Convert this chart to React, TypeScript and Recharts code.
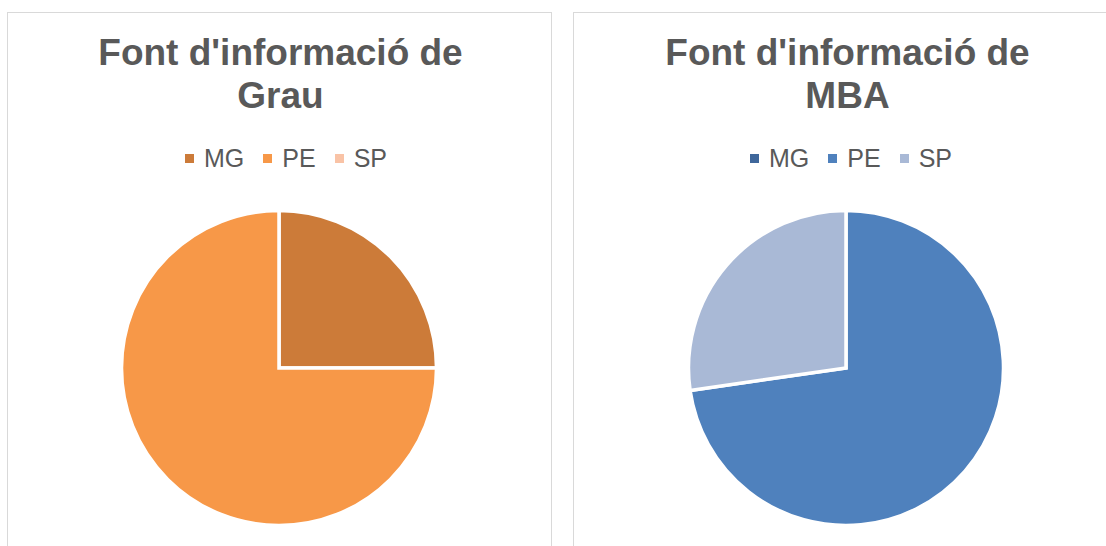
import React from "react"
import { PieChart, Pie, Cell, Legend } from "recharts"

// ============ Data ============
const categories = ["MG", "PE", "SP"]
const grauValues = [1, 3, 0]
const mbaValues = [0, 8, 3]

const grauColors = ["#CC7B39", "#F79848", "#F9C3A6"]
const mbaColors = ["#3F679B", "#4F81BD", "#A9B9D6"]

const FONT = "'Liberation Sans', Arial, sans-serif"

const LegendContent = ({ payload }: any) => {
  if (!payload?.length) return null
  return (
    <div
      style={{
        display: "flex",
        justifyContent: "center",
        alignItems: "center",
        fontFamily: FONT,
        fontSize: 25,
        lineHeight: "28px",
        color: "#595959",
      }}
    >
      {payload.map((p: any, i: number) => (
        <div
          key={i}
          style={{
            display: "flex",
            alignItems: "center",
            marginLeft: i === 0 ? 0 : 19,
          }}
        >
          <span
            style={{
              width: 9,
              height: 9,
              backgroundColor: p.color,
              marginRight: 10,
              display: "inline-block",
            }}
          />
          <span>{p.value}</span>
        </div>
      ))}
    </div>
  )
}

function Panel({
  left,
  width,
  title,
  values,
  colors,
  titleCenter,
  legendCenter,
  pieCx,
}: {
  left: number
  width: number
  title: string[]
  values: number[]
  colors: string[]
  titleCenter: number
  legendCenter: number
  pieCx: number
}) {
  const data = categories.map((name, i) => ({ name, value: values[i] }))
  return (
    <div
      style={{
        position: "absolute",
        left,
        top: 12,
        width,
        height: 560,
        border: "1px solid #D9D9D9",
        boxSizing: "border-box",
        background: "#fff",
      }}
    >
      <div
        style={{
          position: "absolute",
          left: 0,
          top: 18,
          width: titleCenter * 2,
          textAlign: "center",
          fontFamily: FONT,
          fontWeight: "bold",
          fontSize: 37,
          lineHeight: "43px",
          color: "#595959",
          whiteSpace: "nowrap",
        }}
      >
        {title.map((t, i) => (
          <div key={i}>{t}</div>
        ))}
      </div>
      <div style={{ position: "absolute", left: 0, top: 0 }}>
        <PieChart
          width={width - 2}
          height={534}
          margin={{ top: 0, right: 0, bottom: 0, left: 0 }}
          style={{ overflow: "visible" }}
        >
          <Pie
            data={data}
            dataKey="value"
            nameKey="name"
            cx={pieCx}
            cy={355}
            outerRadius={157.5}
            startAngle={90}
            endAngle={-270}
            stroke="#fff"
            strokeWidth={3.5}
            isAnimationActive={false}
          >
            {data.map((d, i) => (
              <Cell key={i} fill={colors[i]} />
            ))}
          </Pie>
          <Legend
            layout="horizontal"
            verticalAlign="middle"
            align="center"
            content={<LegendContent />}
            wrapperStyle={{ left: 0, top: 131, width: legendCenter * 2 }}
          />
        </PieChart>
      </div>
    </div>
  )
}

export default function App() {
  return (
    <div
      style={{
        position: "absolute",
        left: 0,
        top: 0,
        width: 1106,
        height: 546,
        overflow: "hidden",
        background: "#fff",
      }}
    >
      <Panel
        left={7}
        width={545}
        title={["Font d'informació de", "Grau"]}
        values={grauValues}
        colors={grauColors}
        titleCenter={272.5}
        legendCenter={278}
        pieCx={271}
      />
      <Panel
        left={573}
        width={560}
        title={["Font d'informació de", "MBA"]}
        values={mbaValues}
        colors={mbaColors}
        titleCenter={273.5}
        legendCenter={277}
        pieCx={272}
      />
    </div>
  )
}
